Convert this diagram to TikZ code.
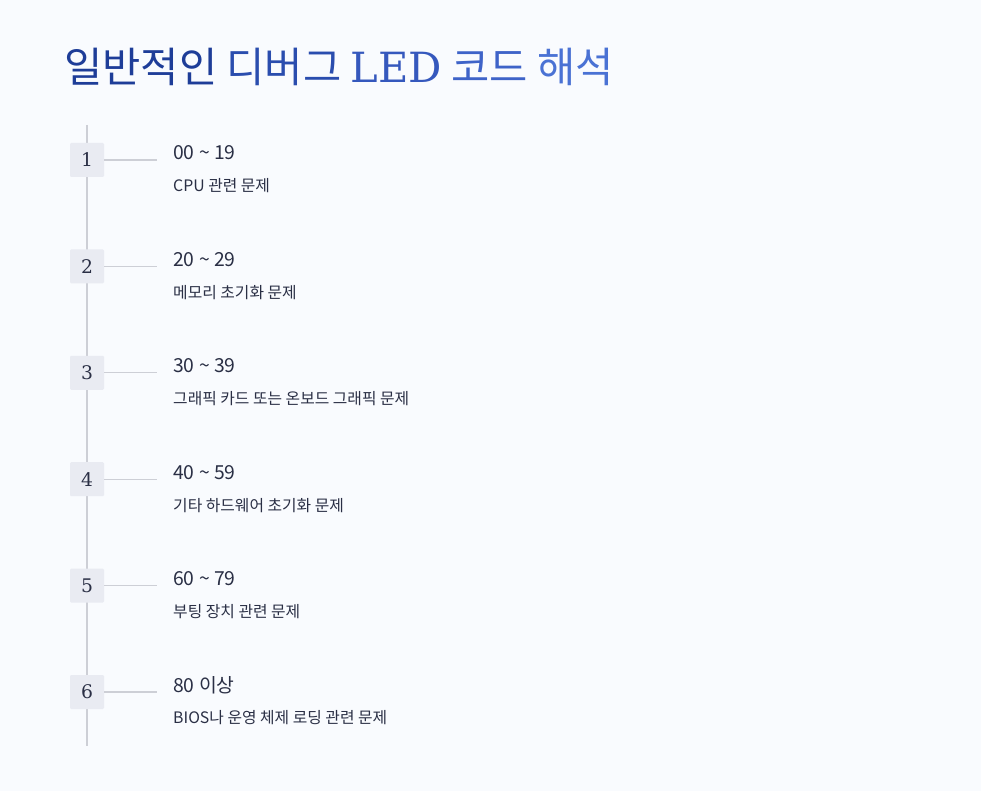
\documentclass[tikz,border=0pt]{standalone}
\usepackage{fontspec}
\setmainfont{Noto Sans CJK KR}
\newfontfamily\numfont{DejaVu Serif}
\definecolor{bgcol}{HTML}{F9FBFE}
\definecolor{linecol}{HTML}{CDCFD6}
\definecolor{boxcol}{HTML}{E9EBF2}
\definecolor{textcol}{HTML}{2A2F45}
\definecolor{tA}{HTML}{1E3D98}
\definecolor{tB}{HTML}{2A4DAE}
\definecolor{tC}{HTML}{3558BD}
\definecolor{tD}{HTML}{3E63C8}
\definecolor{tE}{HTML}{4A72D4}
\tikzset{
  numbox/.style={fill=boxcol, rounded corners=1pt, minimum size=34*0.03cm, inner sep=0pt, font=\numfont\fontsize{16}{16}\selectfont, text=textcol},
  coderange/.style={anchor=west, inner sep=0pt, font=\fontsize{16.5}{16.5}\selectfont, text=textcol},
  codedesc/.style={anchor=west, inner sep=0pt, font=\fontsize{13.5}{13.5}\selectfont, text=textcol}
}
\begin{document}
\begin{tikzpicture}[x=0.03cm, y=-0.03cm]

    % the frame
    \fill[bgcol] (0, 0) rectangle (981, 791);
    \useasboundingbox (0, 0) rectangle (981, 791);

    % title
    \node[anchor=west, inner sep=0pt, font=\fontsize{35.5}{35.5}\selectfont] (title) at (64, 67)
        {\color{tA}일반적인 \color{tB}디버그 \color{tC}{\numfont LED} \color{tD}코드 \color{tE}해석};

    % the spine
    \coordinate (top) at (87, 125);
    \coordinate (bottom) at (87, 746);
    \draw[linecol, line width=1.2pt] (top) -- (bottom);

    % the items
    \foreach \i/\range/\desc in {
        1/00 \textasciitilde{} 19/CPU 관련 문제,
        2/20 \textasciitilde{} 29/메모리 초기화 문제,
        3/30 \textasciitilde{} 39/그래픽 카드 또는 온보드 그래픽 문제,
        4/40 \textasciitilde{} 59/기타 하드웨어 초기화 문제,
        5/60 \textasciitilde{} 79/부팅 장치 관련 문제,
        6/80 이상/BIOS나 운영 체제 로딩 관련 문제} {
        \node[numbox] (box\i) at (87, {160 + (\i-1)*106.4}) {\i};
        \coordinate (tick\i) at (157, {160 + (\i-1)*106.4});
        \draw[linecol, line width=1pt] (box\i.east) -- (tick\i);
        \node[coderange] (range\i) at (173, {153 + (\i-1)*106.4}) {\range};
        \node[codedesc] (desc\i) at (173, {186 + (\i-1)*106.4}) {\desc};
    }

\end{tikzpicture}
\end{document}
